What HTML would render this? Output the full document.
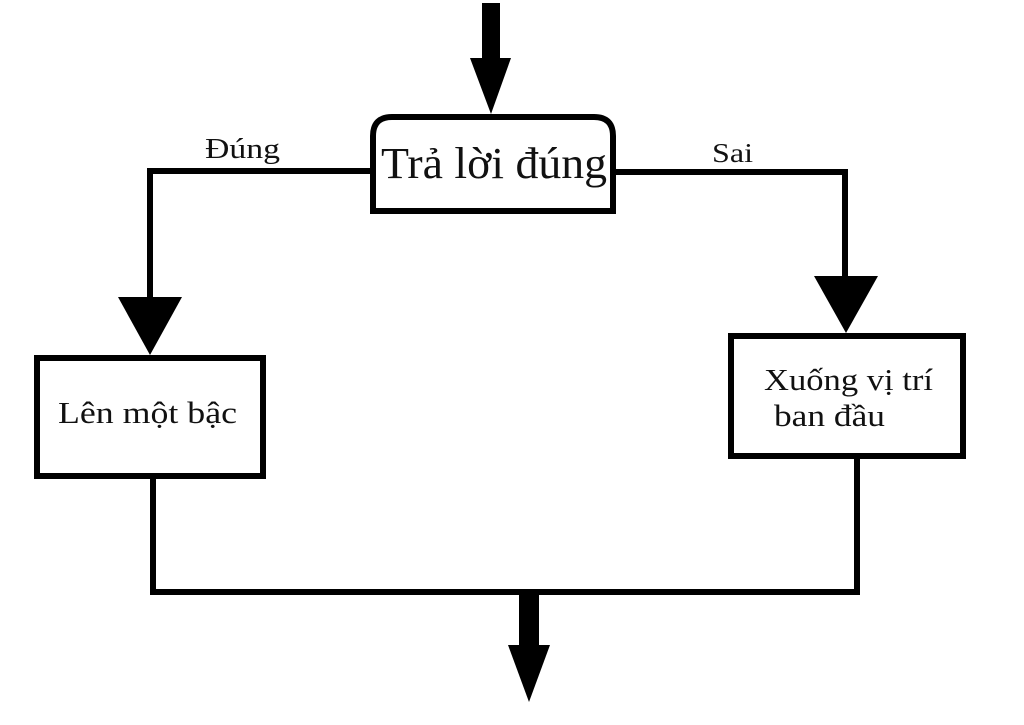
<!DOCTYPE html>
<html><head><meta charset="utf-8"><style>
html,body{margin:0;padding:0;background:#fff;}
svg{display:block;}
text{font-family:"Liberation Serif",serif;fill:#111;}
</style></head><body>
<svg width="1024" height="725" viewBox="0 0 1024 725" xmlns="http://www.w3.org/2000/svg">
<rect width="1024" height="725" fill="#fff"/>
<!-- top arrow -->
<rect x="482" y="3" width="18" height="58" fill="#000"/>
<polygon points="470,58 511,58 491,114" fill="#000"/>
<!-- top box -->
<path d="M373,211 L373,136 Q373,117 392,117 L594,117 Q613,117 613,136 L613,211 Z" fill="#fff" stroke="#000" stroke-width="6"/>
<text x="381" y="178" font-size="44" textLength="226" lengthAdjust="spacingAndGlyphs">Trả lời đúng</text>
<!-- left branch -->
<polyline points="370,171 150,171 150,298" fill="none" stroke="#000" stroke-width="6"/>
<polygon points="118,297 182,297 150,355" fill="#000"/>
<text x="205" y="158" font-size="28" textLength="75" lengthAdjust="spacingAndGlyphs">Đúng</text>
<rect x="37" y="358" width="226" height="118" fill="#fff" stroke="#000" stroke-width="6"/>
<text x="58" y="423" font-size="31" textLength="179" lengthAdjust="spacingAndGlyphs">Lên một bậc</text>
<!-- right branch -->
<polyline points="616,172 845,172 845,280" fill="none" stroke="#000" stroke-width="6"/>
<polygon points="814,276 878,276 846,333" fill="#000"/>
<text x="712" y="162" font-size="27" textLength="41" lengthAdjust="spacingAndGlyphs">Sai</text>
<rect x="731" y="336" width="232" height="120" fill="#fff" stroke="#000" stroke-width="6"/>
<text x="764" y="390" font-size="31" textLength="169" lengthAdjust="spacingAndGlyphs">Xuống vị trí</text>
<text x="774" y="426" font-size="31" textLength="111" lengthAdjust="spacingAndGlyphs">ban đầu</text>
<!-- bottom -->
<polyline points="153,478 153,592 857,592 857,458" fill="none" stroke="#000" stroke-width="6"/>
<rect x="519" y="592" width="20" height="54" fill="#000"/>
<polygon points="508,645 550,645 529,702" fill="#000"/>
</svg>
</body></html>
